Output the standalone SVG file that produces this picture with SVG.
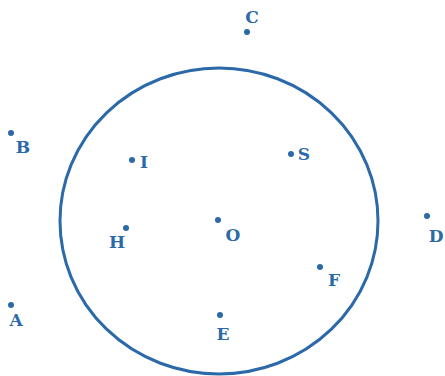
<svg xmlns="http://www.w3.org/2000/svg" width="445" height="376" viewBox="0 0 445 376">
<style>
.c{fill:none;stroke:#2b69a8;stroke-width:3}
.d{fill:#2b69a8}
.t{fill:#2b69a8;font-family:"DejaVu Serif",serif;font-weight:bold;font-size:17px;text-anchor:middle}
</style>
<rect width="445" height="376" fill="#fff"/>
<g id="circle"><ellipse class="c" cx="219" cy="221" rx="159" ry="153"/></g>
<g id="C"><circle class="d" cx="247" cy="32" r="3"/><text class="t" x="252" y="23">C</text></g>
<g id="B"><circle class="d" cx="11" cy="133" r="3"/><text class="t" x="23" y="153">B</text></g>
<g id="I"><circle class="d" cx="132" cy="160" r="3"/><text class="t" x="144" y="168">I</text></g>
<g id="S"><circle class="d" cx="291" cy="154" r="3"/><text class="t" x="304" y="160">S</text></g>
<g id="H"><circle class="d" cx="126" cy="228" r="3"/><text class="t" x="117" y="248">H</text></g>
<g id="O"><circle class="d" cx="218" cy="220" r="3"/><text class="t" x="233" y="241">O</text></g>
<g id="D"><circle class="d" cx="427" cy="216" r="3"/><text class="t" x="436" y="242">D</text></g>
<g id="F"><circle class="d" cx="320" cy="267" r="3"/><text class="t" x="334" y="286">F</text></g>
<g id="A"><circle class="d" cx="11" cy="305" r="3"/><text class="t" x="16" y="326">A</text></g>
<g id="E"><circle class="d" cx="220" cy="315" r="3"/><text class="t" x="223" y="340">E</text></g>
<g id="connectors"></g>
</svg>
